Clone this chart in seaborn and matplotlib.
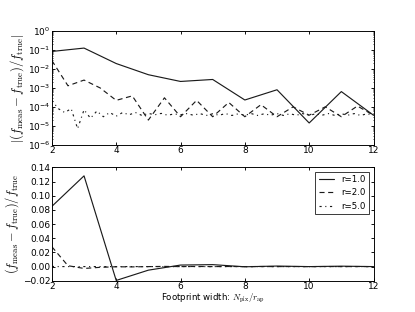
import numpy as np
import pandas as pd
import matplotlib
matplotlib.use("Agg")
import matplotlib.pyplot as plt
import seaborn as sns

# footprint width grids (N_pix / r_ap) for each aperture radius
x_r1 = [2, 3, 4, 5, 6, 7, 8, 9, 10, 11, 12]
x_r2 = [2.0, 2.5, 3.0, 3.5, 4.0, 4.5, 5.0, 5.5, 6.0, 6.5, 7.0, 7.5,
        8.0, 8.5, 9.0, 9.5, 10.0, 10.5, 11.0, 11.5, 12.0]
x_r5 = [round(2.0 + 0.2 * i, 1) for i in range(51)]

# signed relative error (f_meas - f_true) / f_true
err_r1 = [0.085, 0.128, -0.0195, -0.005, 0.0022, 0.0028, -0.00023,
          0.0008, 0.000014, 0.00064, 0.000036]
err_r2 = [0.028, 0.0013, -0.0026, -0.001, -0.00022, -0.00038, 0.00002,
          0.0003, 0.00003, 0.00022, 0.00003, 0.00017, 0.00003, 0.00013,
          0.00003, 0.0001, 0.000036, 0.0001, 0.00003, 0.00011, 0.000036]
err_r5 = [2.2e-4, 8e-5, 5e-5, 8e-5, 7e-6, 7e-5, 2.5e-5, 6e-5, 3e-5, 5e-5,
          3.2e-5, 5e-5, 3.8e-5, 5e-5, 3.5e-5, 4.5e-5, 3.8e-5, 4.5e-5, 3.6e-5, 4.2e-5,
          3.8e-5, 4.4e-5, 3.6e-5, 4.4e-5, 3.5e-5, 4.3e-5, 3.6e-5, 4.4e-5, 3.5e-5, 4.3e-5,
          3.6e-5, 4.4e-5, 3.5e-5, 4.3e-5, 3.6e-5, 4.4e-5, 3.5e-5, 4.3e-5, 3.6e-5, 4.4e-5,
          3.5e-5, 4.3e-5, 3.6e-5, 4.4e-5, 3.5e-5, 4.3e-5, 3.6e-5, 4.4e-5, 3.5e-5, 4.3e-5,
          3.6e-5]

series = [
    ("r=1.0", x_r1, err_r1, "-"),
    ("r=2.0", x_r2, err_r2, "--"),
    ("r=5.0", x_r5, err_r5, "-."),
]

sns.set_theme(style="white", rc={
    "xtick.direction": "in", "ytick.direction": "in",
    "xtick.top": True, "ytick.right": True,
    "xtick.bottom": True, "ytick.left": True,
    "axes.edgecolor": "black", "axes.linewidth": 1.3,
    "xtick.color": "black", "ytick.color": "black",
    "text.color": "black", "axes.labelcolor": "black",
    "xtick.major.size": 4, "ytick.major.size": 4,
    "xtick.minor.size": 2, "ytick.minor.size": 2,
    "mathtext.fontset": "cm",
    "lines.scale_dashes": False,
    "lines.dashed_pattern": [7, 5],
    "lines.dashdot_pattern": [3, 5, 1.5, 5],
})
plt.rcParams["font.family"] = ["DejaVu Sans"]

fig, (ax1, ax2) = plt.subplots(2, 1, figsize=(415 / 52, 6), dpi=52)
fig.subplots_adjust(left=0.125, right=0.9, bottom=0.1, top=0.9, hspace=0.2)

for name, xs, ys, ls in series:
    df = pd.DataFrame({"x": xs, "err": ys})
    df["abs_err"] = df["err"].abs()
    sns.lineplot(data=df, x="x", y="abs_err", ax=ax1, color="k",
                 linestyle=ls, linewidth=1.6, legend=False)
    sns.lineplot(data=df, x="x", y="err", ax=ax2, color="k",
                 linestyle=ls, linewidth=1.6, label=name)

ax1.set_yscale("log")
ax1.set_ylim(1e-6, 1)
ax1.set_xlim(2, 12)
ax1.set_xlabel("")
ax1.set_ylabel(r"$|(f_{\rm meas}-f_{\rm true})/f_{\rm true}|$", fontsize=17.5, labelpad=2)

ax2.set_xlim(2, 12)
ax2.set_ylim(-0.02, 0.14)
ax2.set_yticks(np.arange(-0.02, 0.141, 0.02))
ax2.set_xlabel(r"Footprint width: $N_{\rm pix}/r_{\rm ap}$", fontsize=12, labelpad=1)
ax2.set_ylabel(r"$(f_{\rm meas}-f_{\rm true})/f_{\rm true}$", fontsize=17, labelpad=2)

for ax in (ax1, ax2):
    ax.tick_params(labelsize=12.5, which="both", pad=2)
    ax.tick_params(which="minor", left=True, right=True)

leg = ax2.legend(loc="upper right", fontsize=12, frameon=True, fancybox=False,
                 handlelength=1.8, borderaxespad=0.5)
leg.get_frame().set_edgecolor("black")
leg.get_frame().set_linewidth(1.3)

fig.savefig("out.png", dpi=52)
